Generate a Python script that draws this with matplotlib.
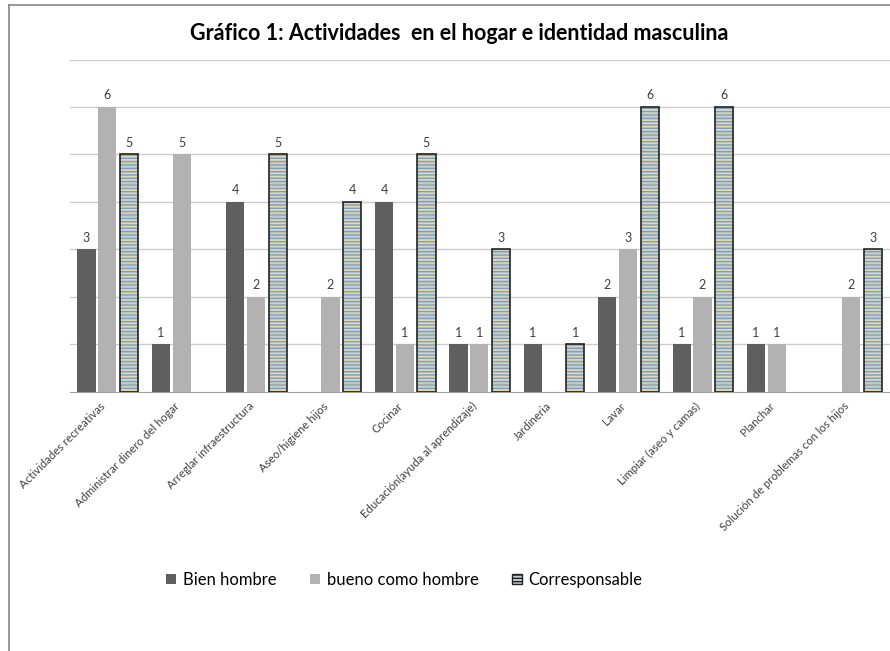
import numpy as np
import matplotlib.pyplot as plt
import matplotlib.transforms as mtransforms
from matplotlib.lines import Line2D
from matplotlib.patches import Patch

categories = [
    'Actividades recreativas', 'Administrar dinero del hogar', 'Arreglar infraestructura',
    'Aseo/higiene hijos', 'Cocinar', 'Educación(ayuda al aprendizaje)', 'Jardineria',
    'Lavar', 'Limpiar (aseo y camas)', 'Planchar', 'Solución de problemas con los hijos'
]
bien_hombre = [3, 1, 4, 0, 4, 1, 1, 2, 1, 1, 0]
bueno_como_hombre = [6, 5, 2, 2, 1, 1, 0, 3, 2, 1, 2]
corresponsable = [5, 0, 5, 4, 5, 3, 1, 6, 6, 0, 3]

plt.rcParams['font.family'] = ['Lato', 'DejaVu Sans']

fig = plt.figure(figsize=(8.9, 6.51), dpi=100)
ax = fig.add_axes([0.0787, 0.398, 0.9213, 0.5106])

x = np.arange(len(categories))
w = 0.245
step = 0.28

# empty categories (0) are not drawn at all
corr = np.array(corresponsable, dtype=float)
corr[corr == 0] = np.nan

ax.bar(x - step, bien_hombre, w, color='#5f5f5f', zorder=3)
ax.bar(x, bueno_como_hombre, w, color='#b2b2b2', zorder=3)
# striped bar: fill + coloured stripes, then black outline on top
ax.bar(x + step + 0.01, corr, w, color='#c3ccd3', edgecolor='#e8dca0',
       hatch='------', linewidth=0, zorder=3)
ax.bar(x + step + 0.01, corr, w, color='none', edgecolor='#7f9fc0',
       hatch='-----', linewidth=0, zorder=3)
ax.bar(x + step + 0.01, corr, w, fill=False, edgecolor='#222222',
       linewidth=1.2, zorder=4)

for offs, vals in [(-step, bien_hombre), (0, bueno_como_hombre), (step + 0.01, corresponsable)]:
    for xi, v in zip(x, vals):
        if v > 0:
            ax.text(xi + offs, v + 0.12, str(v), ha='center', va='bottom',
                    fontsize=9, color='#404040')

ax.set_ylim(0, 7)
ax.set_xlim(-0.5, len(categories) - 0.5 + 0.02)
ax.set_yticks(range(1, 8))
ax.yaxis.grid(True, color='#cccccc', linewidth=1, zorder=0)
ax.tick_params(axis='y', left=False, labelleft=False)
ax.tick_params(axis='x', length=0, pad=9)
ax.set_xticks(x)
ax.set_xticklabels(categories, rotation=45, ha='right', va='center',
                   rotation_mode='anchor', fontsize=8.2, color='#404040')
shift = mtransforms.ScaledTranslation(-4 / 100, 0, fig.dpi_scale_trans)
for lbl in ax.get_xticklabels():
    lbl.set_transform(lbl.get_transform() + shift)
for s in ['top', 'right', 'left']:
    ax.spines[s].set_visible(False)
ax.spines['bottom'].set_color('#a0a0a0')

fig.text(0.516, 0.949, 'Gráfico 1: Actividades  en el hogar e identidad masculina',
         ha='center', va='center', fontsize=15.5, fontweight='bold', color='black')

# chart area border (left and top)
fig.add_artist(Line2D([9 / 890, 9 / 890], [0, 1 - 5 / 651], transform=fig.transFigure,
                      color='#868686', linewidth=1.2))
fig.add_artist(Line2D([9 / 890, 1], [1 - 5 / 651, 1 - 5 / 651], transform=fig.transFigure,
                      color='#868686', linewidth=1.2))

handles = [
    Patch(facecolor='#5f5f5f'),
    Patch(facecolor='#b2b2b2'),
    Patch(facecolor='#c3ccd3', edgecolor='#222222', hatch='-----'),
]
fig.legend(handles, ['Bien hombre', 'bueno como hombre', 'Corresponsable'],
           loc='center', bbox_to_anchor=(0.4545, 0.109), ncol=3, frameon=False,
           fontsize=12, handlelength=0.6, handleheight=0.6, columnspacing=2.0,
           handletextpad=0.4)

fig.savefig('out.png', dpi=100)
